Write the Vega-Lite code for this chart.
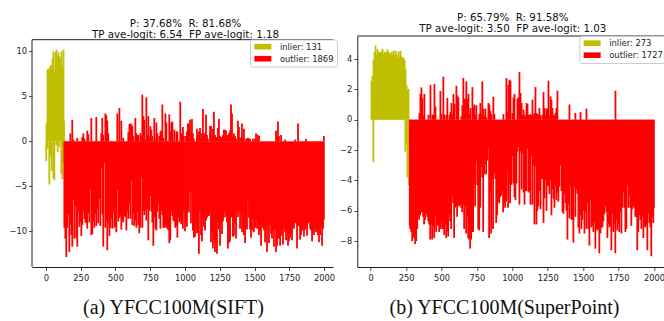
{
  "$schema": "https://vega.github.io/schema/vega-lite/v6.json",
  "padding": {"left": 8, "top": 12, "right": 0, "bottom": 0},
  "bounds": "flush",
  "spacing": 24.3,
  "config": {
    "font": "DejaVu Sans",
    "view": {"stroke": null},
    "axis": {"grid": false, "domainColor": "#222", "tickColor": "#222", "labelColor": "#222", "labelFont": "DejaVu Sans", "labelFontSize": 8.3, "tickSize": 3.5, "labelPadding": 2, "domainWidth": 1, "tickWidth": 0.8, "labelOverlap": false, "labelFlush": false, "format": "d", "tickCount": 20},
    "title": {"font": "DejaVu Sans", "fontSize": 10.3, "fontWeight": "normal", "color": "#111", "anchor": "middle", "lineHeight": 11},
    "legend": {"orient": "none", "title": null, "symbolType": "M-1,-1H5V1H-1Z", "symbolSize": 32, "symbolStrokeWidth": 0, "symbolOpacity": 1, "labelFont": "DejaVu Sans", "labelFontSize": 8.4, "labelColor": "#222", "labelOffset": 18.5, "rowPadding": 3, "padding": 3, "strokeColor": "#cccccc", "fillColor": "#ffffff", "cornerRadius": 2}
  },
  "datasets": {
    "a": [
      {"i":4,"v":2.0,"c":"i"},{"i":11,"v":8.0,"c":"i"},{"i":18,"v":8.0,"c":"i"},{"i":25,"v":8.15,"c":"i"},{"i":32,"v":8.4,"c":"i"},{"i":40,"v":8.5,"c":"i"},{"i":47,"v":9.2,"c":"i"},{"i":54,"v":10.0,"c":"i"},{"i":61,"v":7.6,"c":"i"},{"i":68,"v":9.9,"c":"i"},{"i":76,"v":10.2,"c":"i"},{"i":83,"v":9.45,"c":"i"},{"i":90,"v":9.9,"c":"i"},{"i":97,"v":9.45,"c":"i"},{"i":104,"v":9.15,"c":"i"},{"i":112,"v":10.0,"c":"i"},{"i":119,"v":8.2,"c":"i"},{"i":126,"v":10.2,"c":"i"},{"i":130,"v":2.3,"c":"i"},
      {"i":2,"v":-2.2,"c":"i"},{"i":12,"v":-0.8,"c":"i"},{"i":24,"v":-4.8,"c":"i"},{"i":34,"v":-1.7,"c":"i"},{"i":41,"v":-3.3,"c":"i"},{"i":53,"v":-4.1,"c":"i"},{"i":60,"v":-4.3,"c":"i"},{"i":74,"v":-0.4,"c":"i"},{"i":84,"v":-1.2,"c":"i"},{"i":94,"v":-0.6,"c":"i"},{"i":110,"v":-3.6,"c":"i"},{"i":118,"v":-4.2,"c":"i"},{"i":127,"v":-2.3,"c":"i"},
      {"i":132,"v":-9.6,"c":"o"},{"i":139,"v":-10.8,"c":"o"},{"i":146,"v":-12.85,"c":"o"},{"i":153,"v":-9.6,"c":"o"},{"i":161,"v":-8.2,"c":"o"},{"i":168,"v":-12.3,"c":"o"},{"i":175,"v":-9.26,"c":"o"},{"i":182,"v":-10.4,"c":"o"},{"i":189,"v":-11.7,"c":"o"},{"i":197,"v":-6.5,"c":"o"},{"i":204,"v":-10.8,"c":"o"},{"i":211,"v":-7.2,"c":"o"},{"i":218,"v":-10.7,"c":"o"},{"i":225,"v":-11.7,"c":"o"},{"i":233,"v":-7.8,"c":"o"},{"i":240,"v":-9.5,"c":"o"},{"i":247,"v":-9.0,"c":"o"},{"i":254,"v":-10.5,"c":"o"},{"i":261,"v":-9.3,"c":"o"},{"i":269,"v":-7.8,"c":"o"},{"i":276,"v":-8.6,"c":"o"},{"i":283,"v":-9.0,"c":"o"},{"i":290,"v":-9.1,"c":"o"},{"i":297,"v":-9.7,"c":"o"},{"i":305,"v":-8.0,"c":"o"},{"i":312,"v":-9.0,"c":"o"},{"i":319,"v":-5.3,"c":"o"},{"i":326,"v":-10.4,"c":"o"},{"i":333,"v":-10.3,"c":"o"},{"i":341,"v":-8.9,"c":"o"},{"i":348,"v":-9.6,"c":"o"},{"i":355,"v":-8.1,"c":"o"},{"i":362,"v":-9.4,"c":"o"},{"i":369,"v":-7.5,"c":"o"},{"i":376,"v":-9.1,"c":"o"},{"i":384,"v":-6.4,"c":"o"},{"i":391,"v":-9.4,"c":"o"},{"i":398,"v":-3.0,"c":"o"},{"i":405,"v":-8.1,"c":"o"},{"i":412,"v":-11.7,"c":"o"},{"i":420,"v":-2.4,"c":"o"},{"i":427,"v":-9.6,"c":"o"},{"i":434,"v":-8.8,"c":"o"},{"i":441,"v":-12.1,"c":"o"},{"i":448,"v":-9.1,"c":"o"},{"i":456,"v":-10.5,"c":"o"},{"i":463,"v":-9.6,"c":"o"},{"i":470,"v":-8.6,"c":"o"},{"i":477,"v":-9.7,"c":"o"},{"i":484,"v":-7.8,"c":"o"},{"i":492,"v":-9.6,"c":"o"},{"i":499,"v":-9.4,"c":"o"},{"i":506,"v":-10.1,"c":"o"},{"i":513,"v":-5.4,"c":"o"},{"i":520,"v":-8.9,"c":"o"},{"i":528,"v":-8.5,"c":"o"},{"i":535,"v":-8.3,"c":"o"},{"i":542,"v":-9.8,"c":"o"},{"i":549,"v":-8.8,"c":"o"},{"i":556,"v":-9.0,"c":"o"},{"i":564,"v":-8.3,"c":"o"},{"i":571,"v":-8.4,"c":"o"},{"i":578,"v":-9.9,"c":"o"},{"i":585,"v":-7.8,"c":"o"},{"i":592,"v":-8.6,"c":"o"},{"i":600,"v":-6.9,"c":"o"},{"i":607,"v":-8.6,"c":"o"},{"i":614,"v":-4.4,"c":"o"},{"i":621,"v":-9.3,"c":"o"},{"i":628,"v":-8.0,"c":"o"},{"i":635,"v":-9.4,"c":"o"},{"i":643,"v":-8.8,"c":"o"},{"i":650,"v":-9.6,"c":"o"},{"i":657,"v":-7.8,"c":"o"},{"i":664,"v":-9.3,"c":"o"},{"i":671,"v":-10.2,"c":"o"},{"i":679,"v":-9.6,"c":"o"},{"i":686,"v":-4.0,"c":"o"},{"i":693,"v":-9.6,"c":"o"},{"i":700,"v":-7.7,"c":"o"},{"i":707,"v":-8.2,"c":"o"},{"i":715,"v":-7.7,"c":"o"},{"i":722,"v":-8.8,"c":"o"},{"i":729,"v":-7.5,"c":"o"},{"i":736,"v":-11.0,"c":"o"},{"i":743,"v":-7.7,"c":"o"},{"i":751,"v":-6.1,"c":"o"},{"i":758,"v":-7.8,"c":"o"},{"i":765,"v":-9.0,"c":"o"},{"i":772,"v":-11.6,"c":"o"},{"i":779,"v":-8.4,"c":"o"},{"i":787,"v":-9.7,"c":"o"},{"i":794,"v":-9.9,"c":"o"},{"i":801,"v":-7.8,"c":"o"},{"i":808,"v":-6.9,"c":"o"},{"i":815,"v":-8.6,"c":"o"},{"i":823,"v":-9.7,"c":"o"},{"i":830,"v":-7.7,"c":"o"},{"i":837,"v":-8.2,"c":"o"},{"i":844,"v":-9.6,"c":"o"},{"i":851,"v":-9.6,"c":"o"},{"i":859,"v":-9.4,"c":"o"},{"i":866,"v":-9.6,"c":"o"},{"i":873,"v":-9.7,"c":"o"},{"i":880,"v":-9.9,"c":"o"},{"i":887,"v":-11.3,"c":"o"},{"i":894,"v":-11.0,"c":"o"},{"i":902,"v":-7.9,"c":"o"},{"i":909,"v":-8.3,"c":"o"},{"i":916,"v":-8.8,"c":"o"},{"i":923,"v":-8.9,"c":"o"},{"i":930,"v":-9.6,"c":"o"},{"i":938,"v":-9.4,"c":"o"},{"i":945,"v":-10.7,"c":"o"},{"i":952,"v":-8.5,"c":"o"},{"i":959,"v":-9.0,"c":"o"},{"i":966,"v":-8.8,"c":"o"},{"i":973,"v":-9.2,"c":"o"},
      {"i":978,"v":-8.5,"c":"o"},{"i":985,"v":-9.7,"c":"o"},{"i":992,"v":-7.8,"c":"o"},{"i":1000,"v":-10.0,"c":"o"},{"i":1007,"v":-9.1,"c":"o"},{"i":1014,"v":-9.5,"c":"o"},{"i":1021,"v":-7.6,"c":"o"},{"i":1028,"v":-7.9,"c":"o"},{"i":1036,"v":-5.6,"c":"o"},{"i":1043,"v":-9.1,"c":"o"},{"i":1050,"v":-5.8,"c":"o"},{"i":1057,"v":-9.9,"c":"o"},{"i":1064,"v":-10.7,"c":"o"},{"i":1072,"v":-10.6,"c":"o"},{"i":1079,"v":-9.1,"c":"o"},{"i":1086,"v":-10.2,"c":"o"},{"i":1093,"v":-10.1,"c":"o"},{"i":1100,"v":-12.5,"c":"o"},{"i":1108,"v":-7.8,"c":"o"},{"i":1115,"v":-10.4,"c":"o"},{"i":1122,"v":-11.1,"c":"o"},{"i":1129,"v":-8.5,"c":"o"},{"i":1136,"v":-9.5,"c":"o"},{"i":1144,"v":-9.9,"c":"o"},{"i":1151,"v":-8.8,"c":"o"},{"i":1158,"v":-8.5,"c":"o"},{"i":1165,"v":-8.2,"c":"o"},{"i":1172,"v":-8.3,"c":"o"},{"i":1180,"v":-8.0,"c":"o"},{"i":1187,"v":-11.2,"c":"o"},{"i":1194,"v":-10.1,"c":"o"},{"i":1201,"v":-11.9,"c":"o"},{"i":1208,"v":-10.9,"c":"o"},{"i":1216,"v":-12.3,"c":"o"},{"i":1223,"v":-11.2,"c":"o"},{"i":1230,"v":-12.5,"c":"o"},{"i":1237,"v":-9.0,"c":"o"},{"i":1244,"v":-9.8,"c":"o"},{"i":1252,"v":-11.6,"c":"o"},{"i":1259,"v":-9.0,"c":"o"},{"i":1266,"v":-10.3,"c":"o"},{"i":1273,"v":-8.9,"c":"o"},{"i":1280,"v":-8.5,"c":"o"},{"i":1288,"v":-7.9,"c":"o"},{"i":1295,"v":-8.4,"c":"o"},{"i":1302,"v":-9.0,"c":"o"},{"i":1309,"v":-11.9,"c":"o"},{"i":1316,"v":-11.3,"c":"o"},{"i":1324,"v":-11.1,"c":"o"},{"i":1331,"v":-8.5,"c":"o"},{"i":1338,"v":-8.3,"c":"o"},{"i":1345,"v":-10.6,"c":"o"},{"i":1352,"v":-10.5,"c":"o"},{"i":1360,"v":-9.1,"c":"o"},{"i":1367,"v":-10.8,"c":"o"},{"i":1374,"v":-7.7,"c":"o"},{"i":1381,"v":-8.4,"c":"o"},{"i":1388,"v":-7.9,"c":"o"},{"i":1396,"v":-9.7,"c":"o"},{"i":1403,"v":-7.9,"c":"o"},{"i":1410,"v":-10.1,"c":"o"},{"i":1417,"v":-9.6,"c":"o"},{"i":1424,"v":-10.4,"c":"o"},{"i":1432,"v":-11.3,"c":"o"},{"i":1439,"v":-9.6,"c":"o"},{"i":1446,"v":-9.8,"c":"o"},{"i":1453,"v":-6.6,"c":"o"},{"i":1460,"v":-8.5,"c":"o"},{"i":1468,"v":-9.8,"c":"o"},{"i":1475,"v":-10.7,"c":"o"},{"i":1482,"v":-9.9,"c":"o"},{"i":1489,"v":-8.6,"c":"o"},{"i":1496,"v":-10.1,"c":"o"},{"i":1504,"v":-9.6,"c":"o"},{"i":1511,"v":-8.6,"c":"o"},{"i":1518,"v":-9.7,"c":"o"},{"i":1525,"v":-9.1,"c":"o"},{"i":1532,"v":-10.4,"c":"o"},{"i":1540,"v":-9.9,"c":"o"},{"i":1547,"v":-11.6,"c":"o"},{"i":1554,"v":-9.3,"c":"o"},{"i":1561,"v":-9.6,"c":"o"},{"i":1568,"v":-9.9,"c":"o"},{"i":1576,"v":-11.2,"c":"o"},{"i":1583,"v":-9.4,"c":"o"},{"i":1590,"v":-12.3,"c":"o"},{"i":1597,"v":-9.7,"c":"o"},{"i":1604,"v":-11.3,"c":"o"},{"i":1612,"v":-9.3,"c":"o"},{"i":1619,"v":-10.3,"c":"o"},{"i":1626,"v":-10.8,"c":"o"},{"i":1633,"v":-9.9,"c":"o"},{"i":1640,"v":-11.7,"c":"o"},{"i":1648,"v":-9.8,"c":"o"},{"i":1655,"v":-12.3,"c":"o"},{"i":1662,"v":-11.6,"c":"o"},{"i":1669,"v":-10.8,"c":"o"},{"i":1676,"v":-10.8,"c":"o"},{"i":1684,"v":-11.6,"c":"o"},{"i":1691,"v":-10.5,"c":"o"},{"i":1698,"v":-9.9,"c":"o"},{"i":1705,"v":-11.5,"c":"o"},{"i":1712,"v":-9.7,"c":"o"},{"i":1720,"v":-10.1,"c":"o"},{"i":1727,"v":-11.0,"c":"o"},{"i":1734,"v":-9.9,"c":"o"},{"i":1741,"v":-11.6,"c":"o"},{"i":1748,"v":-11.1,"c":"o"},{"i":1756,"v":-10.7,"c":"o"},{"i":1763,"v":-10.4,"c":"o"},{"i":1770,"v":-11.0,"c":"o"},{"i":1777,"v":-9.4,"c":"o"},{"i":1784,"v":-9.7,"c":"o"},{"i":1792,"v":-9.0,"c":"o"},{"i":1799,"v":-9.1,"c":"o"},{"i":1806,"v":-11.9,"c":"o"},{"i":1813,"v":-9.4,"c":"o"},{"i":1820,"v":-9.4,"c":"o"},{"i":1828,"v":-10.9,"c":"o"},{"i":1835,"v":-10.4,"c":"o"},{"i":1842,"v":-9.9,"c":"o"},{"i":1849,"v":-9.6,"c":"o"},{"i":1856,"v":-10.6,"c":"o"},{"i":1864,"v":-9.8,"c":"o"},{"i":1871,"v":-9.6,"c":"o"},{"i":1878,"v":-10.5,"c":"o"},{"i":1885,"v":-9.1,"c":"o"},{"i":1892,"v":-8.9,"c":"o"},{"i":1900,"v":-9.7,"c":"o"},{"i":1907,"v":-9.9,"c":"o"},{"i":1914,"v":-11.1,"c":"o"},{"i":1921,"v":-10.1,"c":"o"},{"i":1928,"v":-10.4,"c":"o"},{"i":1936,"v":-9.7,"c":"o"},{"i":1943,"v":-10.1,"c":"o"},{"i":1950,"v":-9.9,"c":"o"},{"i":1957,"v":-10.4,"c":"o"},{"i":1964,"v":-11.2,"c":"o"},{"i":1972,"v":-10.4,"c":"o"},{"i":1979,"v":-9.5,"c":"o"},{"i":1986,"v":-11.6,"c":"o"},{"i":1993,"v":-9.7,"c":"o"},{"i":1999,"v":-8.7,"c":"o"},
      {"i":175,"v":0.9,"c":"o"},{"i":189,"v":2.4,"c":"o"},{"i":197,"v":0.2,"c":"o"},{"i":225,"v":0.4,"c":"o"},{"i":261,"v":0.5,"c":"o"},{"i":269,"v":0.9,"c":"o"},{"i":276,"v":0.3,"c":"o"},{"i":297,"v":1.2,"c":"o"},{"i":305,"v":0.8,"c":"o"},{"i":326,"v":2.6,"c":"o"},{"i":362,"v":2.7,"c":"o"},{"i":398,"v":0.9,"c":"o"},{"i":405,"v":2.6,"c":"o"},{"i":412,"v":0.7,"c":"o"},{"i":427,"v":3.1,"c":"o"},{"i":434,"v":2.9,"c":"o"},{"i":441,"v":2.3,"c":"o"},{"i":448,"v":0.9,"c":"o"},{"i":513,"v":3.1,"c":"o"},{"i":528,"v":3.7,"c":"o"},{"i":542,"v":2.3,"c":"o"},{"i":556,"v":0.4,"c":"o"},{"i":592,"v":1.0,"c":"o"},{"i":600,"v":1.9,"c":"o"},{"i":607,"v":2.0,"c":"o"},{"i":614,"v":1.9,"c":"o"},{"i":621,"v":1.7,"c":"o"},{"i":628,"v":0.6,"c":"o"},{"i":643,"v":2.6,"c":"o"},{"i":650,"v":0.9,"c":"o"},{"i":657,"v":0.7,"c":"o"},{"i":664,"v":0.7,"c":"o"},{"i":679,"v":0.9,"c":"o"},{"i":686,"v":0.6,"c":"o"},{"i":693,"v":5.2,"c":"o"},{"i":700,"v":2.8,"c":"o"},{"i":707,"v":2.4,"c":"o"},{"i":715,"v":0.2,"c":"o"},{"i":722,"v":4.9,"c":"o"},{"i":729,"v":0.7,"c":"o"},{"i":736,"v":2.8,"c":"o"},{"i":743,"v":0.5,"c":"o"},{"i":751,"v":1.7,"c":"o"},{"i":758,"v":1.3,"c":"o"},{"i":765,"v":0.6,"c":"o"},{"i":779,"v":2.6,"c":"o"},{"i":787,"v":0.2,"c":"o"},{"i":794,"v":2.1,"c":"o"},{"i":801,"v":0.9,"c":"o"},{"i":815,"v":0.6,"c":"o"},{"i":823,"v":1.1,"c":"o"},{"i":830,"v":1.2,"c":"o"},{"i":837,"v":4.1,"c":"o"},{"i":844,"v":0.4,"c":"o"},{"i":859,"v":3.1,"c":"o"},{"i":866,"v":2.1,"c":"o"},{"i":887,"v":3.0,"c":"o"},{"i":894,"v":1.1,"c":"o"},{"i":902,"v":2.1,"c":"o"},{"i":909,"v":2.2,"c":"o"},{"i":923,"v":1.3,"c":"o"},{"i":938,"v":1.1,"c":"o"},{"i":945,"v":1.1,"c":"o"},{"i":966,"v":4.4,"c":"o"},{"i":973,"v":0.9,"c":"o"},
      {"i":978,"v":0.7,"c":"o"},{"i":985,"v":1.6,"c":"o"},{"i":992,"v":0.6,"c":"o"},{"i":1007,"v":0.6,"c":"o"},{"i":1014,"v":1.1,"c":"o"},{"i":1021,"v":2.0,"c":"o"},{"i":1028,"v":2.0,"c":"o"},{"i":1036,"v":2.4,"c":"o"},{"i":1043,"v":0.9,"c":"o"},{"i":1050,"v":2.5,"c":"o"},{"i":1057,"v":0.9,"c":"o"},{"i":1064,"v":0.3,"c":"o"},{"i":1086,"v":1.4,"c":"o"},{"i":1093,"v":0.7,"c":"o"},{"i":1100,"v":1.1,"c":"o"},{"i":1108,"v":1.5,"c":"o"},{"i":1115,"v":0.3,"c":"o"},{"i":1122,"v":0.9,"c":"o"},{"i":1129,"v":3.6,"c":"o"},{"i":1136,"v":0.7,"c":"o"},{"i":1144,"v":0.9,"c":"o"},{"i":1151,"v":3.0,"c":"o"},{"i":1158,"v":0.7,"c":"o"},{"i":1165,"v":0.3,"c":"o"},{"i":1180,"v":1.7,"c":"o"},{"i":1187,"v":1.7,"c":"o"},{"i":1194,"v":0.6,"c":"o"},{"i":1201,"v":1.4,"c":"o"},{"i":1208,"v":3.3,"c":"o"},{"i":1216,"v":0.7,"c":"o"},{"i":1223,"v":0.5,"c":"o"},{"i":1230,"v":0.4,"c":"o"},{"i":1237,"v":1.5,"c":"o"},{"i":1244,"v":2.5,"c":"o"},{"i":1252,"v":0.6,"c":"o"},{"i":1259,"v":0.4,"c":"o"},{"i":1266,"v":0.5,"c":"o"},{"i":1273,"v":0.7,"c":"o"},{"i":1280,"v":1.3,"c":"o"},{"i":1288,"v":1.3,"c":"o"},{"i":1295,"v":1.2,"c":"o"},{"i":1302,"v":0.5,"c":"o"},{"i":1309,"v":0.7,"c":"o"},{"i":1316,"v":0.9,"c":"o"},{"i":1324,"v":1.2,"c":"o"},{"i":1331,"v":4.1,"c":"o"},{"i":1338,"v":3.1,"c":"o"},{"i":1345,"v":0.5,"c":"o"},{"i":1352,"v":0.9,"c":"o"},{"i":1360,"v":0.6,"c":"o"},{"i":1367,"v":0.3,"c":"o"},{"i":1381,"v":2.3,"c":"o"},{"i":1388,"v":1.6,"c":"o"},{"i":1396,"v":0.4,"c":"o"},{"i":1403,"v":0.4,"c":"o"},{"i":1410,"v":2.0,"c":"o"},{"i":1417,"v":0.4,"c":"o"},{"i":1424,"v":1.4,"c":"o"},{"i":1439,"v":0.3,"c":"o"},{"i":1446,"v":0.3,"c":"o"},{"i":1453,"v":0.4,"c":"o"},{"i":1460,"v":0.3,"c":"o"},{"i":1468,"v":0.3,"c":"o"},{"i":1489,"v":0.3,"c":"o"},{"i":1504,"v":0.3,"c":"o"},{"i":1511,"v":0.9,"c":"o"},{"i":1525,"v":0.7,"c":"o"},{"i":1532,"v":0.6,"c":"o"},{"i":1655,"v":1.2,"c":"o"},{"i":1662,"v":0.6,"c":"o"},{"i":1669,"v":2.2,"c":"o"},{"i":1676,"v":0.6,"c":"o"},{"i":1691,"v":0.7,"c":"o"},{"i":1720,"v":0.2,"c":"o"},{"i":1792,"v":0.2,"c":"o"},{"i":1813,"v":2.0,"c":"o"},{"i":1871,"v":0.3,"c":"o"},{"i":1999,"v":0.6,"c":"o"}
    ],
    "b": [
      {"i":6,"v":2.57,"c":"i"},{"i":13,"v":2.9,"c":"i"},{"i":20,"v":3.95,"c":"i"},{"i":27,"v":4.46,"c":"i"},{"i":34,"v":4.88,"c":"i"},{"i":41,"v":4.29,"c":"i"},{"i":48,"v":4.66,"c":"i"},{"i":55,"v":4.46,"c":"i"},{"i":62,"v":4.5,"c":"i"},{"i":69,"v":4.4,"c":"i"},{"i":76,"v":4.5,"c":"i"},{"i":83,"v":4.68,"c":"i"},{"i":90,"v":4.35,"c":"i"},{"i":97,"v":4.5,"c":"i"},{"i":104,"v":4.4,"c":"i"},{"i":112,"v":4.5,"c":"i"},{"i":119,"v":4.64,"c":"i"},{"i":126,"v":4.46,"c":"i"},{"i":133,"v":4.4,"c":"i"},{"i":140,"v":4.29,"c":"i"},{"i":147,"v":4.46,"c":"i"},{"i":154,"v":4.29,"c":"i"},{"i":161,"v":4.55,"c":"i"},{"i":168,"v":4.24,"c":"i"},{"i":175,"v":4.55,"c":"i"},{"i":182,"v":4.33,"c":"i"},{"i":189,"v":4.1,"c":"i"},{"i":196,"v":4.5,"c":"i"},{"i":203,"v":4.07,"c":"i"},{"i":210,"v":4.55,"c":"i"},{"i":217,"v":4.18,"c":"i"},{"i":224,"v":4.1,"c":"i"},{"i":232,"v":4.1,"c":"i"},{"i":239,"v":3.95,"c":"i"},{"i":246,"v":3.36,"c":"i"},{"i":253,"v":2.3,"c":"i"},{"i":260,"v":1.98,"c":"i"},{"i":267,"v":2.04,"c":"i"},
      {"i":19,"v":-2.8,"c":"i"},{"i":245,"v":-2.1,"c":"i"},{"i":252,"v":-1.6,"c":"i"},{"i":259,"v":-3.8,"c":"i"},{"i":270,"v":-4.3,"c":"i"},
      {"i":276,"v":-7.0,"c":"o"},{"i":279,"v":-7.2,"c":"o"},{"i":286,"v":-7.4,"c":"o"},{"i":293,"v":-8.0,"c":"o"},{"i":300,"v":-7.7,"c":"o"},{"i":307,"v":-7.8,"c":"o"},{"i":314,"v":-8.2,"c":"o"},{"i":321,"v":-8.0,"c":"o"},{"i":328,"v":-7.2,"c":"o"},{"i":335,"v":-6.4,"c":"o"},{"i":342,"v":-6.6,"c":"o"},{"i":349,"v":-6.3,"c":"o"},{"i":356,"v":-6.1,"c":"o"},{"i":363,"v":-6.1,"c":"o"},{"i":370,"v":-6.4,"c":"o"},{"i":377,"v":-6.9,"c":"o"},{"i":384,"v":-6.6,"c":"o"},{"i":392,"v":-6.2,"c":"o"},{"i":399,"v":-6.4,"c":"o"},{"i":406,"v":-6.7,"c":"o"},{"i":413,"v":-6.9,"c":"o"},{"i":420,"v":-7.9,"c":"o"},{"i":427,"v":-6.9,"c":"o"},{"i":434,"v":-7.9,"c":"o"},{"i":441,"v":-7.0,"c":"o"},{"i":448,"v":-7.8,"c":"o"},{"i":455,"v":-6.3,"c":"o"},{"i":462,"v":-7.4,"c":"o"},{"i":469,"v":-6.9,"c":"o"},{"i":476,"v":-7.0,"c":"o"},{"i":483,"v":-7.4,"c":"o"},{"i":490,"v":-7.2,"c":"o"},{"i":497,"v":-6.7,"c":"o"},{"i":504,"v":-7.2,"c":"o"},{"i":512,"v":-7.2,"c":"o"},{"i":519,"v":-7.6,"c":"o"},{"i":526,"v":-6.9,"c":"o"},{"i":533,"v":-7.8,"c":"o"},{"i":540,"v":-7.4,"c":"o"},{"i":547,"v":-7.7,"c":"o"},{"i":554,"v":-6.2,"c":"o"},{"i":561,"v":-6.7,"c":"o"},{"i":568,"v":-7.2,"c":"o"},{"i":575,"v":-5.1,"c":"o"},{"i":582,"v":-5.5,"c":"o"},{"i":589,"v":-7.8,"c":"o"},{"i":596,"v":-5.8,"c":"o"},{"i":603,"v":-5.7,"c":"o"},{"i":610,"v":-6.4,"c":"o"},{"i":617,"v":-5.6,"c":"o"},{"i":624,"v":-5.7,"c":"o"},{"i":632,"v":-5.6,"c":"o"},{"i":639,"v":-5.8,"c":"o"},{"i":646,"v":-6.1,"c":"o"},{"i":653,"v":-5.6,"c":"o"},{"i":660,"v":-7.2,"c":"o"},{"i":667,"v":-5.7,"c":"o"},{"i":674,"v":-7.5,"c":"o"},{"i":681,"v":-6.4,"c":"o"},{"i":688,"v":-7.8,"c":"o"},{"i":695,"v":-7.9,"c":"o"},{"i":702,"v":-8.5,"c":"o"},{"i":709,"v":-7.9,"c":"o"},{"i":716,"v":-7.4,"c":"o"},{"i":723,"v":-7.4,"c":"o"},{"i":730,"v":-4.2,"c":"o"},{"i":737,"v":-5.7,"c":"o"},{"i":744,"v":-2.7,"c":"o"},{"i":752,"v":-4.3,"c":"o"},{"i":759,"v":-7.2,"c":"o"},{"i":766,"v":-7.3,"c":"o"},{"i":773,"v":-5.8,"c":"o"},{"i":780,"v":-3.1,"c":"o"},{"i":787,"v":-3.8,"c":"o"},{"i":794,"v":-7.4,"c":"o"},{"i":801,"v":-3.6,"c":"o"},{"i":808,"v":-2.9,"c":"o"},{"i":815,"v":-3.6,"c":"o"},{"i":822,"v":-2.7,"c":"o"},{"i":829,"v":-1.9,"c":"o"},{"i":836,"v":-7.8,"c":"o"},{"i":843,"v":-4.7,"c":"o"},{"i":850,"v":-7.5,"c":"o"},{"i":857,"v":-4.0,"c":"o"},{"i":864,"v":-7.2,"c":"o"},{"i":872,"v":-3.5,"c":"o"},{"i":879,"v":-3.9,"c":"o"},{"i":886,"v":-6.8,"c":"o"},{"i":893,"v":-6.3,"c":"o"},{"i":900,"v":-5.4,"c":"o"},{"i":907,"v":-5.5,"c":"o"},{"i":914,"v":-5.1,"c":"o"},{"i":921,"v":-5.0,"c":"o"},{"i":928,"v":-4.7,"c":"o"},{"i":935,"v":-6.1,"c":"o"},{"i":942,"v":-5.5,"c":"o"},{"i":949,"v":-5.8,"c":"o"},{"i":956,"v":-5.4,"c":"o"},{"i":963,"v":-3.4,"c":"o"},{"i":970,"v":-5.8,"c":"o"},{"i":977,"v":-4.3,"c":"o"},{"i":984,"v":-5.5,"c":"o"},
      {"i":994,"v":-4.3,"c":"o"},{"i":1001,"v":-2.4,"c":"o"},{"i":1008,"v":-4.2,"c":"o"},{"i":1015,"v":-5.1,"c":"o"},{"i":1022,"v":-5.3,"c":"o"},{"i":1029,"v":-4.2,"c":"o"},{"i":1036,"v":-2.1,"c":"o"},{"i":1043,"v":-1.8,"c":"o"},{"i":1050,"v":-5.6,"c":"o"},{"i":1058,"v":-2.1,"c":"o"},{"i":1065,"v":-4.6,"c":"o"},{"i":1072,"v":-2.2,"c":"o"},{"i":1079,"v":-4.8,"c":"o"},{"i":1086,"v":-5.6,"c":"o"},{"i":1093,"v":-4.7,"c":"o"},{"i":1100,"v":-4.7,"c":"o"},{"i":1107,"v":-1.9,"c":"o"},{"i":1114,"v":-4.8,"c":"o"},{"i":1121,"v":-4.7,"c":"o"},{"i":1128,"v":-5.6,"c":"o"},{"i":1135,"v":-2.4,"c":"o"},{"i":1142,"v":-5.6,"c":"o"},{"i":1149,"v":-3.0,"c":"o"},{"i":1156,"v":-6.9,"c":"o"},{"i":1163,"v":-3.1,"c":"o"},{"i":1170,"v":-6.9,"c":"o"},{"i":1177,"v":-6.0,"c":"o"},{"i":1184,"v":-5.7,"c":"o"},{"i":1191,"v":-4.7,"c":"o"},{"i":1199,"v":-5.9,"c":"o"},{"i":1206,"v":-3.9,"c":"o"},{"i":1213,"v":-3.9,"c":"o"},{"i":1220,"v":-6.8,"c":"o"},{"i":1227,"v":-5.2,"c":"o"},{"i":1234,"v":-4.0,"c":"o"},{"i":1241,"v":-6.0,"c":"o"},{"i":1248,"v":-4.3,"c":"o"},{"i":1255,"v":-4.4,"c":"o"},{"i":1262,"v":-4.9,"c":"o"},{"i":1269,"v":-4.0,"c":"o"},{"i":1276,"v":-6.3,"c":"o"},{"i":1283,"v":-4.6,"c":"o"},{"i":1290,"v":-5.2,"c":"o"},{"i":1297,"v":-5.8,"c":"o"},{"i":1304,"v":-4.4,"c":"o"},{"i":1311,"v":-5.3,"c":"o"},{"i":1318,"v":-4.8,"c":"o"},{"i":1325,"v":-5.4,"c":"o"},{"i":1332,"v":-4.4,"c":"o"},{"i":1340,"v":-3.0,"c":"o"},{"i":1347,"v":-4.7,"c":"o"},{"i":1354,"v":-6.1,"c":"o"},{"i":1361,"v":-6.2,"c":"o"},{"i":1368,"v":-4.9,"c":"o"},{"i":1375,"v":-5.5,"c":"o"},{"i":1382,"v":-6.0,"c":"o"},{"i":1389,"v":-7.9,"c":"o"},{"i":1396,"v":-5.6,"c":"o"},{"i":1403,"v":-6.5,"c":"o"},{"i":1410,"v":-4.4,"c":"o"},{"i":1417,"v":-6.6,"c":"o"},{"i":1424,"v":-6.6,"c":"o"},{"i":1431,"v":-8.1,"c":"o"},{"i":1438,"v":-4.4,"c":"o"},{"i":1445,"v":-6.4,"c":"o"},{"i":1452,"v":-4.6,"c":"o"},{"i":1459,"v":-4.9,"c":"o"},{"i":1466,"v":-7.1,"c":"o"},{"i":1473,"v":-7.5,"c":"o"},{"i":1481,"v":-6.3,"c":"o"},{"i":1488,"v":-7.2,"c":"o"},{"i":1495,"v":-6.6,"c":"o"},{"i":1502,"v":-6.0,"c":"o"},{"i":1509,"v":-7.5,"c":"o"},{"i":1516,"v":-6.1,"c":"o"},{"i":1523,"v":-7.2,"c":"o"},{"i":1530,"v":-5.5,"c":"o"},{"i":1537,"v":-7.2,"c":"o"},{"i":1544,"v":-8.3,"c":"o"},{"i":1551,"v":-5.3,"c":"o"},{"i":1558,"v":-7.1,"c":"o"},{"i":1565,"v":-7.0,"c":"o"},{"i":1572,"v":-7.4,"c":"o"},{"i":1579,"v":-6.8,"c":"o"},{"i":1586,"v":-8.5,"c":"o"},{"i":1593,"v":-7.2,"c":"o"},{"i":1600,"v":-7.3,"c":"o"},{"i":1607,"v":-7.2,"c":"o"},{"i":1614,"v":-8.8,"c":"o"},{"i":1622,"v":-7.5,"c":"o"},{"i":1629,"v":-7.1,"c":"o"},{"i":1636,"v":-7.1,"c":"o"},{"i":1643,"v":-6.7,"c":"o"},{"i":1650,"v":-6.2,"c":"o"},{"i":1657,"v":-5.7,"c":"o"},{"i":1664,"v":-6.1,"c":"o"},{"i":1671,"v":-7.8,"c":"o"},{"i":1678,"v":-6.9,"c":"o"},{"i":1685,"v":-7.1,"c":"o"},{"i":1692,"v":-7.0,"c":"o"},{"i":1699,"v":-8.6,"c":"o"},{"i":1706,"v":-6.2,"c":"o"},{"i":1713,"v":-7.4,"c":"o"},{"i":1720,"v":-6.9,"c":"o"},{"i":1727,"v":-8.8,"c":"o"},{"i":1734,"v":-6.6,"c":"o"},{"i":1741,"v":-7.3,"c":"o"},{"i":1748,"v":-6.9,"c":"o"},{"i":1755,"v":-7.4,"c":"o"},{"i":1763,"v":-6.1,"c":"o"},{"i":1770,"v":-7.5,"c":"o"},{"i":1777,"v":-5.8,"c":"o"},{"i":1784,"v":-4.8,"c":"o"},{"i":1791,"v":-5.8,"c":"o"},{"i":1798,"v":-7.4,"c":"o"},{"i":1805,"v":-7.2,"c":"o"},{"i":1812,"v":-4.3,"c":"o"},{"i":1819,"v":-5.8,"c":"o"},{"i":1826,"v":-5.0,"c":"o"},{"i":1833,"v":-5.8,"c":"o"},{"i":1840,"v":-7.0,"c":"o"},{"i":1847,"v":-5.9,"c":"o"},{"i":1854,"v":-5.7,"c":"o"},{"i":1861,"v":-5.8,"c":"o"},{"i":1868,"v":-6.4,"c":"o"},{"i":1875,"v":-6.4,"c":"o"},{"i":1882,"v":-8.6,"c":"o"},{"i":1889,"v":-7.4,"c":"o"},{"i":1896,"v":-6.3,"c":"o"},{"i":1904,"v":-6.6,"c":"o"},{"i":1911,"v":-7.2,"c":"o"},{"i":1918,"v":-6.4,"c":"o"},{"i":1925,"v":-7.8,"c":"o"},{"i":1932,"v":-7.0,"c":"o"},{"i":1939,"v":-7.1,"c":"o"},{"i":1946,"v":-6.9,"c":"o"},{"i":1953,"v":-8.6,"c":"o"},{"i":1960,"v":-6.2,"c":"o"},{"i":1967,"v":-6.8,"c":"o"},{"i":1974,"v":-7.1,"c":"o"},{"i":1981,"v":-9.0,"c":"o"},{"i":1988,"v":-6.4,"c":"o"},{"i":1995,"v":-6.8,"c":"o"},{"i":1999,"v":-5.8,"c":"o"},
      {"i":344,"v":0.44,"c":"o"},{"i":351,"v":1.7,"c":"o"},{"i":358,"v":2.13,"c":"o"},{"i":365,"v":1.43,"c":"o"},{"i":372,"v":0.29,"c":"o"},{"i":379,"v":1.7,"c":"o"},{"i":408,"v":0.33,"c":"o"},{"i":422,"v":2.3,"c":"o"},{"i":436,"v":0.33,"c":"o"},{"i":443,"v":0.33,"c":"o"},{"i":450,"v":2.35,"c":"o"},{"i":457,"v":0.88,"c":"o"},{"i":492,"v":1.9,"c":"o"},{"i":499,"v":0.37,"c":"o"},{"i":513,"v":2.84,"c":"o"},{"i":520,"v":0.33,"c":"o"},{"i":534,"v":0.33,"c":"o"},{"i":541,"v":1.43,"c":"o"},{"i":556,"v":0.33,"c":"o"},{"i":563,"v":0.5,"c":"o"},{"i":570,"v":1.1,"c":"o"},{"i":577,"v":0.33,"c":"o"},{"i":584,"v":1.7,"c":"o"},{"i":591,"v":1.03,"c":"o"},{"i":605,"v":2.24,"c":"o"},{"i":612,"v":1.6,"c":"o"},{"i":619,"v":1.47,"c":"o"},{"i":640,"v":0.22,"c":"o"},{"i":647,"v":0.95,"c":"o"},{"i":654,"v":2.75,"c":"o"},{"i":661,"v":1.38,"c":"o"},{"i":668,"v":1.38,"c":"o"},{"i":675,"v":2.53,"c":"o"},{"i":683,"v":1.38,"c":"o"},{"i":690,"v":1.7,"c":"o"},{"i":697,"v":0.37,"c":"o"},{"i":704,"v":0.77,"c":"o"},{"i":718,"v":2.15,"c":"o"},{"i":725,"v":0.81,"c":"o"},{"i":732,"v":1.0,"c":"o"},{"i":739,"v":0.33,"c":"o"},{"i":746,"v":0.95,"c":"o"},{"i":767,"v":0.37,"c":"o"},{"i":774,"v":1.1,"c":"o"},{"i":781,"v":0.33,"c":"o"},{"i":788,"v":2.53,"c":"o"},{"i":796,"v":0.73,"c":"o"},{"i":803,"v":0.29,"c":"o"},{"i":810,"v":0.73,"c":"o"},{"i":817,"v":0.15,"c":"o"},{"i":831,"v":1.1,"c":"o"},{"i":838,"v":1.0,"c":"o"},{"i":845,"v":0.6,"c":"o"},{"i":852,"v":0.37,"c":"o"},{"i":866,"v":1.52,"c":"o"},{"i":873,"v":0.37,"c":"o"},{"i":937,"v":0.37,"c":"o"},{"i":958,"v":2.75,"c":"o"},{"i":965,"v":0.5,"c":"o"},{"i":972,"v":2.3,"c":"o"},{"i":980,"v":2.64,"c":"o"},{"i":987,"v":2.57,"c":"o"},
      {"i":1001,"v":0.44,"c":"o"},{"i":1008,"v":1.47,"c":"o"},{"i":1015,"v":1.7,"c":"o"},{"i":1036,"v":1.38,"c":"o"},{"i":1043,"v":1.47,"c":"o"},{"i":1050,"v":3.14,"c":"o"},{"i":1058,"v":1.76,"c":"o"},{"i":1065,"v":1.1,"c":"o"},{"i":1072,"v":0.29,"c":"o"},{"i":1079,"v":0.66,"c":"o"},{"i":1086,"v":0.33,"c":"o"},{"i":1093,"v":0.22,"c":"o"},{"i":1100,"v":1.1,"c":"o"},{"i":1107,"v":1.03,"c":"o"},{"i":1114,"v":0.33,"c":"o"},{"i":1121,"v":0.29,"c":"o"},{"i":1128,"v":0.37,"c":"o"},{"i":1135,"v":0.33,"c":"o"},{"i":1142,"v":1.32,"c":"o"},{"i":1149,"v":0.33,"c":"o"},{"i":1156,"v":0.44,"c":"o"},{"i":1163,"v":2.15,"c":"o"},{"i":1170,"v":0.44,"c":"o"},{"i":1177,"v":0.37,"c":"o"},{"i":1184,"v":0.33,"c":"o"},{"i":1191,"v":0.77,"c":"o"},{"i":1199,"v":0.29,"c":"o"},{"i":1213,"v":0.33,"c":"o"},{"i":1220,"v":1.82,"c":"o"},{"i":1227,"v":0.77,"c":"o"},{"i":1234,"v":0.33,"c":"o"},{"i":1241,"v":0.73,"c":"o"},{"i":1248,"v":0.73,"c":"o"},{"i":1255,"v":2.57,"c":"o"},{"i":1262,"v":0.29,"c":"o"},{"i":1269,"v":1.54,"c":"o"},{"i":1276,"v":1.32,"c":"o"},{"i":1283,"v":0.77,"c":"o"},{"i":1290,"v":0.29,"c":"o"},{"i":1297,"v":0.29,"c":"o"},{"i":1304,"v":0.44,"c":"o"},{"i":1311,"v":0.77,"c":"o"},{"i":1318,"v":1.91,"c":"o"},{"i":1403,"v":1.0,"c":"o"},{"i":1445,"v":0.44,"c":"o"},{"i":1481,"v":0.5,"c":"o"},{"i":1523,"v":0.73,"c":"o"},{"i":1728,"v":1.91,"c":"o"}
    ]
  },
  "hconcat": [
    {
      "width": 301,
      "height": 231,
      "title": {"text": ["P: 37.68%\u00a0\u00a0R: 81.68%", "TP ave-logit: 6.54\u00a0\u00a0FP ave-logit: 1.18"], "dx": 3, "offset": -4.5},
      "layer": [
        {
          "data": {"name": "a"},
          "mark": {"type": "bar", "width": 1.8, "orient": "vertical", "opacity": 1},
          "encoding": {
            "x": {"field": "i", "type": "quantitative", "scale": {"domain": [-100.7, 2064.7], "nice": false, "zero": false, "padding": 0},
                  "axis": {"values": [0, 250, 500, 750, 1000, 1250, 1500, 1750, 2000], "tickCount": 20, "labelOverlap": false, "title": "(a) YFCC100M(SIFT)", "titleFont": "Liberation Serif", "titleFontSize": 20, "titleFontWeight": "normal", "titleColor": "#111", "titleX": 141, "titleY": 46.7, "titleAlign": "center", "titleBaseline": "alphabetic", "labelPadding": 3}},
            "y": {"field": "v", "type": "quantitative", "scale": {"domain": [-13.96, 11.71], "nice": false, "zero": false, "padding": 0},
                  "axis": {"values": [-10, -5, 0, 5, 10], "tickCount": 20, "labelOverlap": false, "title": null, "domain": false}},
            "color": {"field": "c", "type": "nominal", "scale": {"domain": ["i", "o"], "range": ["#bfbf00", "#ff0000"]},
                      "legend": {"legendX": 218, "legendY": 3.5, "labelExpr": "datum.label == 'i' ? 'inlier: 131' : 'outlier: 1869'"}}
          }
        },
        {"data": {"values": [{}]}, "mark": {"type": "rule", "color": "#222", "strokeWidth": 1}, "encoding": {"y": {"datum": 11.3}}},
        {"data": {"values": [{}]}, "mark": {"type": "rule", "color": "#222", "strokeWidth": 1}, "encoding": {"x": {"datum": -100.7}, "y": {"datum": 11.3}, "y2": {"datum": -13.96}}}
      ]
    },
    {
      "width": 308,
      "height": 231,
      "title": {"text": ["P: 65.79%\u00a0\u00a0R: 91.58%", "TP ave-logit: 3.50\u00a0\u00a0FP ave-logit: 1.03"], "dx": 1.5, "offset": 1.5},
      "layer": [
        {
          "data": {"name": "b"},
          "mark": {"type": "bar", "width": 1.8, "orient": "vertical", "opacity": 1},
          "encoding": {
            "x": {"field": "i", "type": "quantitative", "scale": {"domain": [-94.6, 2079.8], "nice": false, "zero": false, "padding": 0},
                  "axis": {"values": [0, 250, 500, 750, 1000, 1250, 1500, 1750, 2000], "tickCount": 20, "labelOverlap": false, "title": "(b) YFCC100M(SuperPoint)", "titleFont": "Liberation Serif", "titleFontSize": 20, "titleFontWeight": "normal", "titleColor": "#111", "titleX": 146.7, "titleY": 46.7, "titleAlign": "center", "titleBaseline": "alphabetic", "labelPadding": 3}},
            "y": {"field": "v", "type": "quantitative", "scale": {"domain": [-9.71, 5.52], "nice": false, "zero": false, "padding": 0},
                  "axis": {"values": [-8, -6, -4, -2, 0, 2, 4], "tickCount": 20, "labelOverlap": false, "title": null}},
            "color": {"field": "c", "type": "nominal", "scale": {"domain": ["i", "o"], "range": ["#bfbf00", "#ff0000"]},
                      "legend": {"legendX": 222, "legendY": 0, "labelExpr": "datum.label == 'i' ? 'inlier: 273' : 'outlier: 1727'"}}
          }
        },
        {"data": {"values": [{}]}, "mark": {"type": "rule", "color": "#222", "strokeWidth": 1}, "encoding": {"y": {"datum": 5.52}}}
      ]
    }
  ],
  "resolve": {"scale": {"color": "independent"}, "legend": {"color": "independent"}}
}
